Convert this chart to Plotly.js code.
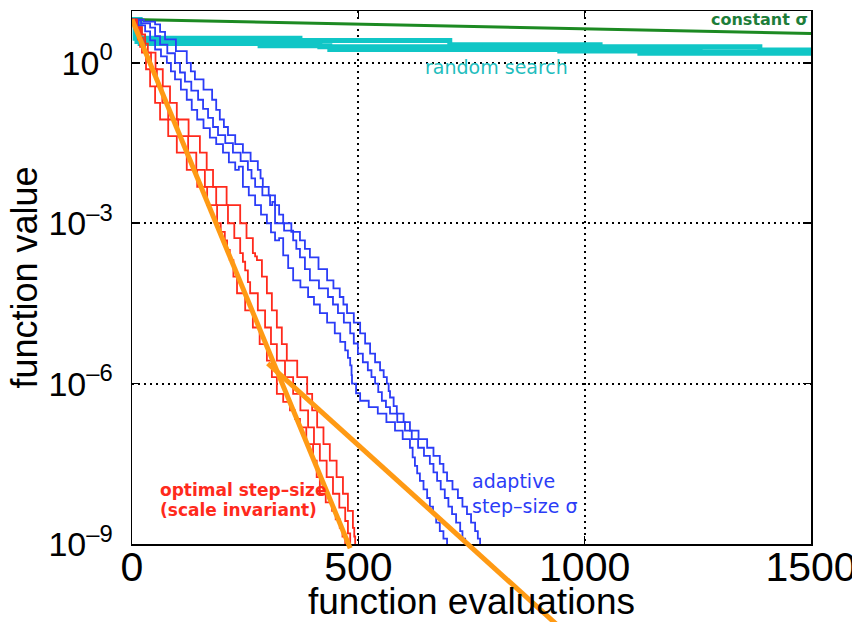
<!DOCTYPE html>
<html><head><meta charset="utf-8">
<script src="https://cdn.plot.ly/plotly-3.0.1.min.js"></script>
<style>html,body{margin:0;padding:0;background:#fff}#chart{width:852px;height:622px}</style>
</head><body><div id="chart"></div>
<script>
// ---- data (x = function evaluations, y = log10 of function value) ----
const xTickVals = [0, 500, 1000, 1500];
const xTickText = ['0', '500', '1000', '1500'];
const yTickExp = [-9, -6, -3, 0];
const yTickText = ['10<sup>–9</sup>', '10<sup>–6</sup>', '10<sup>–3</sup>', '10<sup>0</sup>'];

const constX = [0, 300, 600, 900, 1200, 1500];
const constLog = [0.81, 0.76, 0.71, 0.66, 0.60, 0.55];

const rand1X = [0, 7, 371, 702, 1034, 1387, 1500];
const rand1Log = [0.81, 0.46, 0.42, 0.34, 0.30, 0.24, 0.24];
const rand2X = [0, 11, 150, 415, 769, 1255, 1500];
const rand2Log = [0.81, 0.40, 0.38, 0.30, 0.26, 0.21, 0.21];
const rand3X = [0, 18, 283, 437, 945, 1122, 1500];
const rand3Log = [0.81, 0.36, 0.32, 0.25, 0.22, 0.18, 0.16];

const blue1X = [0, 14, 29, 40, 51, 64, 77, 86, 95, 108, 121, 132, 144, 158, 172, 186, 201, 214, 228, 236, 245, 258, 272, 285, 298, 307, 316, 325, 334, 345, 356, 372, 389, 402, 415, 431, 448, 460, 471, 477, 482, 485, 486, 495, 504, 523, 543, 562, 581, 598, 614, 620, 625, 630, 636, 644, 652, 658, 665, 672, 680, 688, 696];
const blue1Log = [0.81, 0.70, 0.59, 0.42, 0.25, 0.12, 0.0, -0.16, -0.31, -0.50, -0.69, -0.88, -1.06, -1.22, -1.40, -1.52, -1.68, -1.86, -2.0, -1.94, -2.32, -2.48, -2.66, -2.84, -3.0, -3.17, -3.32, -3.28, -3.60, -3.84, -4.07, -4.20, -4.38, -4.52, -4.68, -4.86, -5.06, -5.22, -5.38, -5.52, -5.66, -5.84, -6.0, -6.18, -6.32, -6.44, -6.56, -6.72, -6.88, -7.04, -7.20, -7.38, -7.54, -7.68, -7.82, -7.98, -8.14, -8.30, -8.44, -8.60, -8.76, -8.90, -9.05];
const blue2X = [0, 20, 40, 51, 62, 78, 95, 106, 117, 131, 146, 157, 168, 179, 190, 206, 223, 240, 256, 264, 272, 288, 305, 310, 316, 336, 356, 363, 371, 382, 393, 413, 433, 444, 455, 468, 482, 490, 499, 510, 521, 529, 537, 544, 552, 561, 570, 586, 603, 618, 632, 645, 658, 666, 674, 682, 691, 699, 707, 716, 725, 730, 736];
const blue2Log = [0.81, 0.74, 0.66, 0.50, 0.34, 0.18, 0.0, -0.18, -0.35, -0.52, -0.69, -0.86, -1.03, -1.20, -1.35, -1.50, -1.68, -1.84, -2.0, -2.16, -2.32, -2.48, -2.66, -2.60, -3.0, -3.14, -3.32, -3.48, -3.64, -3.86, -4.07, -4.22, -4.38, -4.52, -4.68, -4.86, -5.06, -5.25, -5.44, -5.60, -5.75, -5.88, -6.0, -6.16, -6.32, -6.44, -6.56, -6.72, -6.88, -7.04, -7.20, -7.35, -7.50, -7.66, -7.82, -7.98, -8.14, -8.30, -8.44, -8.60, -8.76, -8.90, -9.05];
const blue3X = [0, 26, 51, 62, 73, 97, 121, 130, 139, 158, 177, 186, 194, 203, 212, 228, 245, 262, 278, 284, 289, 302, 316, 325, 334, 352, 371, 382, 393, 412, 431, 445, 459, 467, 475, 490, 504, 515, 526, 537, 548, 556, 563, 567, 570, 578, 585, 600, 614, 633, 652, 666, 680, 688, 696, 708, 720, 730, 740, 749, 758, 764, 769];
const blue3Log = [0.81, 0.77, 0.72, 0.58, 0.44, 0.22, 0.0, -0.16, -0.31, -0.50, -0.69, -0.88, -1.06, -1.20, -1.35, -1.52, -1.68, -1.84, -2.0, -2.16, -2.32, -2.48, -2.66, -2.84, -3.0, -3.16, -3.32, -3.48, -3.64, -3.86, -4.07, -4.22, -4.38, -4.52, -4.68, -4.86, -5.06, -5.25, -5.44, -5.60, -5.75, -5.88, -6.0, -6.14, -6.26, -6.42, -6.56, -6.72, -6.88, -7.04, -7.20, -7.35, -7.50, -7.66, -7.82, -7.98, -8.14, -8.30, -8.44, -8.60, -8.76, -8.90, -9.05];

const red1X = [0, 7, 13, 18, 22, 31, 40, 51, 62, 80, 99, 121, 144, 166, 188, 196, 205, 210, 216, 224, 232, 250, 267, 282, 298, 309, 320, 334, 349, 360, 371, 385, 400, 408, 415, 428, 442, 450, 459, 465, 471];
const red1Log = [0.81, 0.62, 0.44, 0.30, 0.19, -0.12, -0.44, -0.75, -1.06, -1.37, -1.68, -2.0, -2.32, -2.66, -3.0, -3.16, -3.32, -3.50, -3.69, -4.0, -4.31, -4.63, -4.95, -5.26, -5.57, -5.88, -6.19, -6.34, -6.50, -6.66, -6.82, -7.13, -7.44, -7.75, -8.06, -8.22, -8.38, -8.54, -8.70, -8.86, -9.05];
const red2X = [0, 9, 18, 24, 29, 42, 55, 67, 80, 102, 124, 142, 161, 186, 212, 226, 239, 245, 250, 256, 261, 278, 294, 307, 320, 338, 356, 372, 389, 402, 415, 430, 444, 458, 471, 477, 482];
const red2Log = [0.81, 0.64, 0.47, 0.33, 0.19, -0.12, -0.44, -0.75, -1.06, -1.37, -1.68, -2.0, -2.32, -2.66, -3.0, -3.28, -3.56, -3.72, -3.88, -4.10, -4.31, -4.63, -4.95, -5.26, -5.57, -5.88, -6.19, -6.50, -6.82, -7.13, -7.44, -7.75, -8.06, -8.32, -8.57, -8.80, -9.05];
const red3X = [0, 11, 22, 29, 35, 52, 68, 84, 99, 125, 150, 165, 179, 209, 239, 253, 267, 272, 276, 287, 298, 309, 320, 331, 342, 365, 387, 398, 409, 423, 437, 452, 466, 477, 488, 491, 493];
const red3Log = [0.81, 0.67, 0.53, 0.36, 0.19, -0.12, -0.44, -0.75, -1.06, -1.37, -1.68, -2.0, -2.32, -2.66, -3.0, -3.28, -3.56, -3.62, -3.69, -4.0, -4.31, -4.63, -4.95, -5.26, -5.57, -5.88, -6.19, -6.50, -6.82, -7.13, -7.44, -7.75, -8.06, -8.38, -8.70, -8.86, -9.05];

const orange1X = [0, 482];
const orange1Log = [0.81, -9.08];
const orange2X = [300, 940];
const orange2Log = [-5.62, -10.52];

// ---- build ----
const pw = v => v.map(e => Math.pow(10, e));
const W = 852, H = 622, mT = 11, mB = 78, mL = 132, mR = 41;
const yRange = [-9.0, 0.97];
const pxPerDec = (H - mT - mB) / (yRange[1] - yRange[0]);
const y2Range = [yRange[0] - mB / pxPerDec, yRange[1]];

function line(x, ylog, color, width, shape, ax) {
  return {x: x, y: pw(ylog), type: 'scatter', mode: 'lines', hoverinfo: 'skip',
    line: {color: color, width: width, shape: shape || 'linear'},
    xaxis: ax ? 'x2' : 'x', yaxis: ax ? 'y2' : 'y', showlegend: false};
}
const CY = '#10c6c6', GR = '#1c8a22', BL = '#2b3cf7', RD = '#ff2a1c', OR = '#ff9a14';
const traces = [
  line(rand1X, rand1Log, CY, 5, 'hv'),
  line(rand2X, rand2Log, CY, 5, 'hv'),
  line(rand3X, rand3Log, CY, 5, 'hv'),
  line(constX, constLog, GR, 3),
  line(blue1X, blue1Log, BL, 1.8, 'hv'),
  line(blue2X, blue2Log, BL, 1.8, 'hv'),
  line(blue3X, blue3Log, BL, 1.8, 'hv'),
  line(red1X, red1Log, RD, 1.8, 'hv'),
  line(red2X, red2Log, RD, 1.8, 'hv'),
  line(red3X, red3Log, RD, 1.8, 'hv'),
  line(orange1X, orange1Log, OR, 5, 'linear', true),
  line(orange2X, orange2Log, OR, 5, 'linear', true)
];

const axCommon = {showline: true, linecolor: '#000', linewidth: 1.5, mirror: 'ticks',
  ticks: 'inside', ticklen: 8, tickwidth: 1.5, tickcolor: '#000',
  showgrid: true, gridcolor: '#000', gridwidth: 1.8, griddash: '2px,4px', zeroline: false};

function ann(x, y, text, anchor, font) {
  return {x: x, y: y, xref: 'x', yref: 'y', text: text, showarrow: false,
    xanchor: anchor, yanchor: 'middle', align: anchor === 'right' ? 'right' : 'left', font: font};
}

const layout = {
  width: W, height: H, margin: {l: mL, r: mR, t: mT, b: 0, pad: 0},
  paper_bgcolor: '#fff', plot_bgcolor: 'rgba(0,0,0,0)', showlegend: false,
  xaxis: Object.assign({}, axCommon, {range: [0, 1500], tickvals: xTickVals, ticktext: xTickText,
    domain: [0, 1], anchor: 'y', ticklabeloverflow: 'allow',
    tickfont: {family: 'Liberation Sans, Arial', size: 41, color: '#000'},
    ticklabelstandoff: -14,
    title: {text: 'function evaluations', standoff: 16,
      font: {family: 'Liberation Sans, Arial', size: 37, color: '#000'}}}),
  yaxis: Object.assign({}, axCommon, {type: 'log', range: yRange, domain: [mB / (H - mT), 1], anchor: 'x',
    tickvals: pw(yTickExp), ticktext: yTickText, ticklabelstandoff: 11,
    tickfont: {family: 'Liberation Sans, Arial', size: 34, color: '#000'},
    title: {text: 'function value', standoff: 0,
      font: {family: 'Liberation Sans, Arial', size: 36, color: '#000'}}}),
  xaxis2: {domain: [0, 1], range: [0, 1500], anchor: 'y2', visible: false, fixedrange: true},
  yaxis2: {domain: [0, 1], type: 'log', range: y2Range, anchor: 'x2', visible: false, fixedrange: true},
  annotations: [
    ann(1497, 0.81, 'constant σ', 'right', {family: 'DejaVu Sans', size: 16, color: '#1e7d3a', weight: 'bold'}),
    {x: 806, y: -0.07, xref: 'x', yref: 'y', text: 'random search', showarrow: false, xanchor: 'center', yanchor: 'middle',
      font: {family: 'DejaVu Sans', size: 19, color: '#1fbdbd'}},
    ann(57, -7.99, 'optimal step–size', 'left', {family: 'DejaVu Sans', size: 17, color: RD, weight: 'bold'}),
    ann(57, -8.36, '(scale invariant)', 'left', {family: 'DejaVu Sans', size: 17, color: RD, weight: 'bold'}),
    ann(747, -7.82, 'adaptive', 'left', {family: 'DejaVu Sans', size: 19, color: BL}),
    ann(747, -8.29, 'step–size σ', 'left', {family: 'DejaVu Sans', size: 19, color: BL})
  ]
};

Plotly.newPlot('chart', traces, layout, {staticPlot: true, displayModeBar: false});
</script></body></html>
